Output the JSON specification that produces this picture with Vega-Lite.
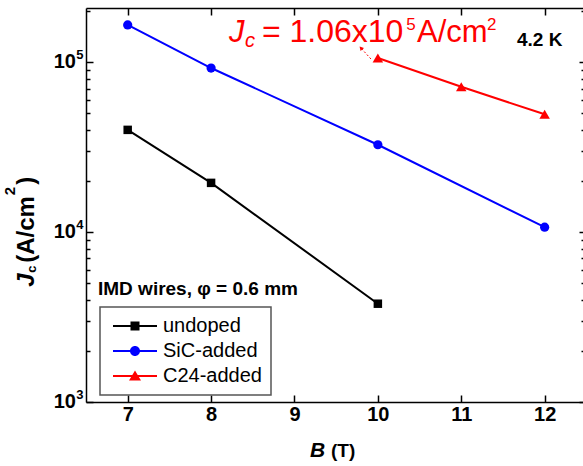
{
  "$schema": "https://vega.github.io/schema/vega-lite/v6.json",
  "width": 497,
  "height": 394,
  "autosize": {"type": "none"},
  "padding": {"left": 86, "top": 8, "right": 0, "bottom": 64},
  "background": "white",
  "config": {
    "view": {"stroke": null},
    "font": "Liberation Sans",
    "axis": {
      "domainColor": "black", "domainWidth": 1.5,
      "tickColor": "black", "tickWidth": 1.5,
      "grid": false, "title": null,
      "labelFont": "Liberation Sans", "labelFontSize": 20, "labelFontWeight": "bold", "labelColor": "black",
      "labelFlush": false, "labelOverlap": false
    }
  },
  "datasets": {
    "jc": [
      {"series": "undoped", "B": 7, "Jc": 40000},
      {"series": "undoped", "B": 8, "Jc": 19500},
      {"series": "undoped", "B": 10, "Jc": 3790},
      {"series": "SiC-added", "B": 7, "Jc": 166000},
      {"series": "SiC-added", "B": 8, "Jc": 92500},
      {"series": "SiC-added", "B": 10, "Jc": 32700},
      {"series": "SiC-added", "B": 12, "Jc": 10700},
      {"series": "C24-added", "B": 10, "Jc": 106000},
      {"series": "C24-added", "B": 11, "Jc": 71700},
      {"series": "C24-added", "B": 12, "Jc": 49400}
    ]
  },
  "encoding": {
    "x": {"field": "B", "type": "quantitative", "scale": {"domain": [6.5, 12.46], "nice": false, "zero": false}, "axis": null},
    "y": {"field": "Jc", "type": "quantitative", "scale": {"type": "log", "domain": [1000, 208700], "nice": false}, "axis": null}
  },
  "layer": [
    {
      "data": {"name": "jc"},
      "transform": [{"filter": "datum.series == 'undoped'"}],
      "mark": {"type": "line", "strokeWidth": 2, "color": "#000000"},
      "encoding": {
        "x": {"field": "B", "type": "quantitative", "scale": {"domain": [6.5, 12.46], "nice": false, "zero": false},
          "axis": {"orient": "bottom", "values": [7, 8, 9, 10, 11, 12], "tickSize": -7, "labelPadding": 9}},
        "y": {"field": "Jc", "type": "quantitative", "scale": {"type": "log", "domain": [1000, 208700], "nice": false},
          "axis": {"orient": "left", "labels": false, "values": [1000, 2000, 3000, 4000, 5000, 6000, 7000, 8000, 9000, 10000, 20000, 30000, 40000, 50000, 60000, 70000, 80000, 90000, 100000, 200000],
            "tickSize": {"condition": {"test": "datum.value == 1000 || datum.value == 10000 || datum.value == 100000", "value": -7}, "value": -4}}}
      }
    },
    {
      "data": {"name": "jc"},
      "transform": [{"filter": "datum.series == 'SiC-added'"}],
      "mark": {"type": "line", "strokeWidth": 2, "color": "#0000FF"}
    },
    {
      "data": {"name": "jc"},
      "transform": [{"filter": "datum.series == 'C24-added'"}],
      "mark": {"type": "line", "strokeWidth": 2, "color": "#FF0000"}
    },
    {
      "data": {"name": "jc"},
      "transform": [{"filter": "datum.series == 'undoped'"}],
      "mark": {"type": "point", "shape": "square", "filled": true, "opacity": 1, "size": 72, "color": "#000000"}
    },
    {
      "data": {"name": "jc"},
      "transform": [{"filter": "datum.series == 'SiC-added'"}],
      "mark": {"type": "point", "shape": "circle", "filled": true, "opacity": 1, "size": 85, "color": "#0000FF"}
    },
    {
      "data": {"name": "jc"},
      "transform": [{"filter": "datum.series == 'C24-added'"}],
      "mark": {"type": "point", "shape": "triangle-up", "filled": true, "opacity": 1, "size": 110, "color": "#FF0000"}
    },
    {
      "data": {"name": "jc"},
      "mark": {"type": "point", "filled": true, "opacity": 0},
      "encoding": {
        "x": {"field": "B", "type": "quantitative", "scale": {"domain": [6.5, 12.46], "nice": false, "zero": false},
          "axis": {"orient": "top", "values": [7, 8, 9, 10, 11, 12], "tickSize": -7, "labels": false}},
        "y": {"field": "Jc", "type": "quantitative", "scale": {"type": "log", "domain": [1000, 208700], "nice": false},
          "axis": {"orient": "right", "domain": false, "labels": false, "values": [1000, 2000, 3000, 4000, 5000, 6000, 7000, 8000, 9000, 10000, 20000, 30000, 40000, 50000, 60000, 70000, 80000, 90000, 100000, 200000],
            "tickSize": {"condition": {"test": "datum.value == 1000 || datum.value == 10000 || datum.value == 100000", "value": -4}, "value": -2}}},
        "color": {"field": "series", "type": "nominal", "scale": {"domain": ["undoped", "SiC-added", "C24-added"], "range": ["#000000", "#0000FF", "#FF0000"]},
          "legend": {"orient": "none", "legendX": 14, "legendY": 299, "title": null, "symbolSize": 400, "symbolStrokeWidth": 0,
            "labelFontSize": 20, "labelFont": "Liberation Sans", "labelColor": "black", "strokeColor": "#555555",
            "fillColor": "white", "padding": 9, "symbolOffset": 16, "labelOffset": 18, "rowPadding": 5,
            "encode": {"legend": {"update": {"strokeWidth": {"value": 1.5}}}}}},
        "shape": {"field": "series", "type": "nominal", "scale": {"domain": ["undoped", "SiC-added", "C24-added"],
          "range": [
            "M-2.2,-0.1H2.2V0.1H-2.2ZM-0.45,-0.45H0.45V0.45H-0.45Z",
            "M-2.2,-0.1H2.2V0.1H-2.2ZM-0.5,0A0.5,0.5 0 1,1 0.5,0A0.5,0.5 0 1,1 -0.5,0Z",
            "M-2.2,-0.1H2.2V0.1H-2.2ZM0,-0.55L0.6,0.45H-0.6Z"
          ]}}
      }
    },
    {
      "data": {"values": [{"B": 6.38, "Jc": 1000, "label": "10"}, {"B": 6.38, "Jc": 10000, "label": "10"}, {"B": 6.38, "Jc": 100000, "label": "10"}]},
      "mark": {"type": "text", "align": "right", "baseline": "middle", "fontSize": 20, "fontWeight": "bold", "color": "black"},
      "encoding": {"text": {"field": "label"}}
    },
    {
      "data": {"values": [{"B": 6.384, "Jc": 1000, "label": "3"}, {"B": 6.384, "Jc": 10000, "label": "4"}, {"B": 6.384, "Jc": 100000, "label": "5"}]},
      "mark": {"type": "text", "align": "left", "baseline": "middle", "dy": -7, "fontSize": 13, "fontWeight": "bold", "color": "black"},
      "encoding": {"text": {"field": "label"}}
    },
    {
      "data": {"values": [{"B": 9.917, "Jc": 104570, "B2": 9.797, "Jc2": 121400}]},
      "mark": {"type": "rule", "color": "#FF0000", "strokeWidth": 1, "strokeDash": [2, 2]},
      "encoding": {"x2": {"field": "B2"}, "y2": {"field": "Jc2"}}
    },
    {
      "data": {"values": [{"B": 9.797, "Jc": 121400}]},
      "mark": {"type": "point", "shape": "triangle-up", "filled": true, "opacity": 1, "size": 22, "angle": 318, "color": "#FF0000"}
    },
    {
      "data": {"values": [{"B": 8.2146, "Jc": 131650, "label": "J"}]},
      "mark": {"type": "text", "align": "left", "baseline": "alphabetic", "fontSize": 31, "fontStyle": "italic", "color": "#FF0000"},
      "encoding": {"text": {"field": "label"}}
    },
    {
      "data": {"values": [{"B": 8.4065, "Jc": 123030, "label": "c"}]},
      "mark": {"type": "text", "align": "left", "baseline": "alphabetic", "fontSize": 20, "fontStyle": "italic", "color": "#FF0000"},
      "encoding": {"text": {"field": "label"}}
    },
    {
      "data": {"values": [{"B": 8.6103, "Jc": 131650, "label": "="}, {"B": 8.94, "Jc": 131650, "label": "1.06x10"}]},
      "mark": {"type": "text", "align": "left", "baseline": "alphabetic", "fontSize": 32, "color": "#FF0000"},
      "encoding": {"text": {"field": "label"}}
    },
    {
      "data": {"values": [{"B": 10.469, "Jc": 131650, "label": "A/cm"}]},
      "mark": {"type": "text", "align": "left", "baseline": "alphabetic", "fontSize": 31, "color": "#FF0000"},
      "encoding": {"text": {"field": "label"}}
    },
    {
      "data": {"values": [{"B": 10.34, "Jc": 154900, "label": "5"}, {"B": 11.308, "Jc": 154900, "label": "2"}]},
      "mark": {"type": "text", "align": "left", "baseline": "alphabetic", "fontSize": 17, "color": "#FF0000"},
      "encoding": {"text": {"field": "label"}}
    },
    {
      "data": {"values": [{"B": 11.668, "Jc": 124700, "label": "4.2 K"}, {"B": 6.6439, "Jc": 4278, "label": "IMD wires, φ = 0.6 mm"}, {"B": 9.4376, "Jc": 476.9, "label": "(T)"}]},
      "mark": {"type": "text", "align": "left", "baseline": "alphabetic", "fontSize": 19, "fontWeight": "bold", "color": "black"},
      "encoding": {"text": {"field": "label"}}
    },
    {
      "data": {"values": [{"B": 9.186, "Jc": 476.9, "label": "B"}]},
      "mark": {"type": "text", "align": "left", "baseline": "alphabetic", "fontSize": 21, "fontWeight": "bold", "fontStyle": "italic", "color": "black"},
      "encoding": {"text": {"field": "label"}}
    },
    {
      "data": {"values": [{"B": 5.8765, "Jc": 4767, "label": "J"}]},
      "mark": {"type": "text", "align": "left", "baseline": "alphabetic", "angle": 270, "fontSize": 24, "fontWeight": "bold", "fontStyle": "italic", "color": "black"},
      "encoding": {"text": {"field": "label"}}
    },
    {
      "data": {"values": [{"B": 5.9005, "Jc": 5763, "label": "c"}]},
      "mark": {"type": "text", "align": "left", "baseline": "alphabetic", "angle": 270, "fontSize": 13, "fontWeight": "bold", "color": "black"},
      "encoding": {"text": {"field": "label"}}
    },
    {
      "data": {"values": [{"B": 5.8765, "Jc": 6598, "label": "(A/cm"}, {"B": 5.8765, "Jc": 19000, "label": ")"}]},
      "mark": {"type": "text", "align": "left", "baseline": "alphabetic", "angle": 270, "fontSize": 24, "fontWeight": "bold", "color": "black"},
      "encoding": {"text": {"field": "label"}}
    },
    {
      "data": {"values": [{"B": 5.6487, "Jc": 16500, "label": "2"}]},
      "mark": {"type": "text", "align": "left", "baseline": "alphabetic", "angle": 270, "fontSize": 15, "fontWeight": "bold", "color": "black"},
      "encoding": {"text": {"field": "label"}}
    }
  ],
  "resolve": {"axis": {"x": "independent", "y": "independent"}}
}
